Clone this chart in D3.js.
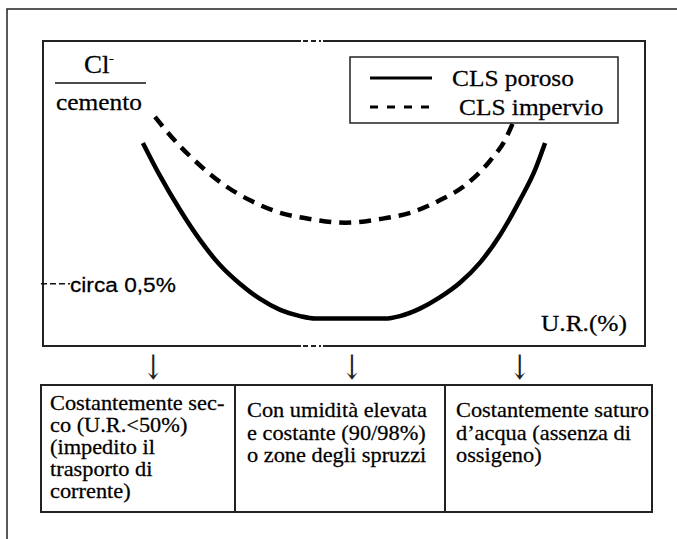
<!DOCTYPE html>
<html>
<head>
<meta charset="utf-8">
<script src="https://cdn.jsdelivr.net/npm/d3@7"></script>
<style>
  body { margin: 0; background: #fff; }
  svg { display: block; }
</style>
</head>
<body>
<svg id="plot" width="677" height="539"></svg>
<script>
// U.R. (%) vs Cl-/cemento (%)
const porosoUR = [16.6, 19.4, 22.8, 26.1, 29.4, 32.7, 36.0, 39.4, 42.7, 45.2, 56.8, 59.3, 62.6, 65.9, 69.3, 72.6, 75.9, 79.2, 81.7, 83.4];
const porosoCl = [1.63, 1.37, 1.09, 0.85, 0.65, 0.50, 0.38, 0.29, 0.24, 0.22, 0.22, 0.24, 0.30, 0.39, 0.51, 0.67, 0.89, 1.17, 1.41, 1.63];
const imperUR = [18.6, 21.9, 26.1, 30.2, 34.4, 39.4, 44.4, 50.2, 56.0, 61.0, 65.9, 70.1, 74.3, 76.7, 78.4];
const imperCl = [1.84, 1.65, 1.45, 1.29, 1.17, 1.07, 1.02, 0.99, 1.02, 1.07, 1.17, 1.29, 1.49, 1.65, 1.83];
const seriesNames = ["CLS poroso", "CLS impervio"];
const markerCl = 0.5;
const markerLabel = "circa 0,5%";
const arrowUR = [18.3, 51.3, 79.2];
const col1 = ["Costantemente sec-", "co (U.R.<50%)", "(impedito il", "trasporto di", "corrente)"];
const col2 = ["Con umidità elevata", "e costante (90/98%)", "o zone degli spruzzi"];
const col3 = ["Costantemente saturo", "d\u2019acqua (assenza di", "ossigeno)"];

const svg = d3.select("#plot");
const serif = "'Liberation Serif', 'Times New Roman', serif";
const sans = "'Liberation Sans', Arial, sans-serif";
const sx = 1.08; // picture is a bit stretched sideways

const boxL = 43, boxR = 645, boxT = 41, boxB = 346;
const x = d3.scaleLinear().domain([0, 100]).range([boxL, boxR]);
const y = d3.scaleLinear().domain([0, 2.45]).range([boxB, boxT]);

function label(px, py, str, size, family, anchor) {
    return svg.append("text")
        .attr("transform", "translate(" + px + "," + py + ") scale(" + sx + ",1)")
        .attr("font-family", family)
        .attr("font-size", size + "px")
        .attr("text-anchor", anchor || "start")
        .attr("fill", "#000")
        .attr("stroke", "#000")
        .attr("stroke-width", 0.25)
        .text(str);
}

// outer frame (only left and top show)
svg.append("path")
    .attr("d", "M7,539 L7,9 L677,9")
    .attr("fill", "none").attr("stroke", "#222").attr("stroke-width", 1.5);

// plot box, with the small break on top and bottom
const gapA = 301, gapB = 323;
svg.append("path")
    .attr("d", "M" + gapA + "," + boxT + " L" + boxL + "," + boxT + " L" + boxL + "," + boxB + " L" + gapA + "," + boxB +
        " M" + gapB + "," + boxT + " L" + boxR + "," + boxT + " L" + boxR + "," + boxB + " L" + gapB + "," + boxB)
    .attr("fill", "none").attr("stroke", "#222").attr("stroke-width", 2);
[boxT, boxB].forEach(function(yy) {
    svg.append("line")
        .attr("x1", gapA + 2).attr("x2", gapB - 2).attr("y1", yy).attr("y2", yy)
        .attr("stroke", "#222").attr("stroke-width", 2).attr("stroke-dasharray", "5,3");
});

// curves
const line = d3.line().curve(d3.curveMonotoneX)
    .x(function(d) { return x(d[0]); })
    .y(function(d) { return y(d[1]); });

svg.append("path")
    .datum(d3.zip(porosoUR, porosoCl))
    .attr("d", line)
    .attr("fill", "none").attr("stroke", "#000").attr("stroke-width", 4.5);

svg.append("path")
    .datum(d3.zip(imperUR, imperCl))
    .attr("d", line)
    .attr("fill", "none").attr("stroke", "#000").attr("stroke-width", 4.5)
    .attr("stroke-dasharray", "12,8");

// y label as a fraction
label(84, 73, "Cl", 25, serif);
label(109, 62, "-", 13, serif);
svg.append("line").attr("x1", 55).attr("x2", 146).attr("y1", 83).attr("y2", 83)
    .attr("stroke", "#111").attr("stroke-width", 1.5);
label(56, 110, "cemento", 23.5, serif);

// 0.5% marker
svg.append("line")
    .attr("x1", boxL - 2).attr("x2", 70).attr("y1", y(markerCl)).attr("y2", y(markerCl))
    .attr("stroke", "#111").attr("stroke-width", 1.5).attr("stroke-dasharray", "6,3");
label(70, y(markerCl) + 8, markerLabel, 21, sans);

// x label
label(541, 331, "U.R.(%)", 23.5, serif);

// legend
svg.append("rect").attr("x", 350).attr("y", 57).attr("width", 268).attr("height", 66)
    .attr("fill", "#fff").attr("stroke", "#222").attr("stroke-width", 1.5);
svg.append("line").attr("x1", 370).attr("x2", 432).attr("y1", 78).attr("y2", 78)
    .attr("stroke", "#000").attr("stroke-width", 3);
svg.append("line").attr("x1", 370).attr("x2", 432).attr("y1", 107).attr("y2", 107)
    .attr("stroke", "#000").attr("stroke-width", 3).attr("stroke-dasharray", "8,9");
label(452, 86, seriesNames[0], 23.5, serif);
label(459, 115, seriesNames[1], 23.5, serif);

// arrows down to the table
arrowUR.forEach(function(u) {
    label(x(u), 379, "\u2193", 34, "'DejaVu Serif', 'DejaVu Sans'", "middle")
        .attr("transform", "translate(" + x(u) + ",379) scale(0.75,1)")
        .attr("stroke-width", 0)
        .attr("fill", "#222");
});

// table
const tTop = 385, tBottom = 512, tLeft = 41, tRight = 652, div1 = 235, div2 = 445;
svg.append("rect").attr("x", tLeft).attr("y", tTop).attr("width", tRight - tLeft).attr("height", tBottom - tTop)
    .attr("fill", "none").attr("stroke", "#222").attr("stroke-width", 2);
[div1, div2].forEach(function(dx) {
    svg.append("line").attr("x1", dx).attr("x2", dx).attr("y1", tTop).attr("y2", tBottom)
        .attr("stroke", "#222").attr("stroke-width", 2);
});

col1.forEach(function(s, i) { label(50, 410 + i * 22, s, 20.7, serif); });
col2.forEach(function(s, i) { label(247, 417 + i * 22.5, s, 20.7, serif); });
col3.forEach(function(s, i) { label(456, 417 + i * 22.5, s, 20.7, serif); });
</script>
</body>
</html>
